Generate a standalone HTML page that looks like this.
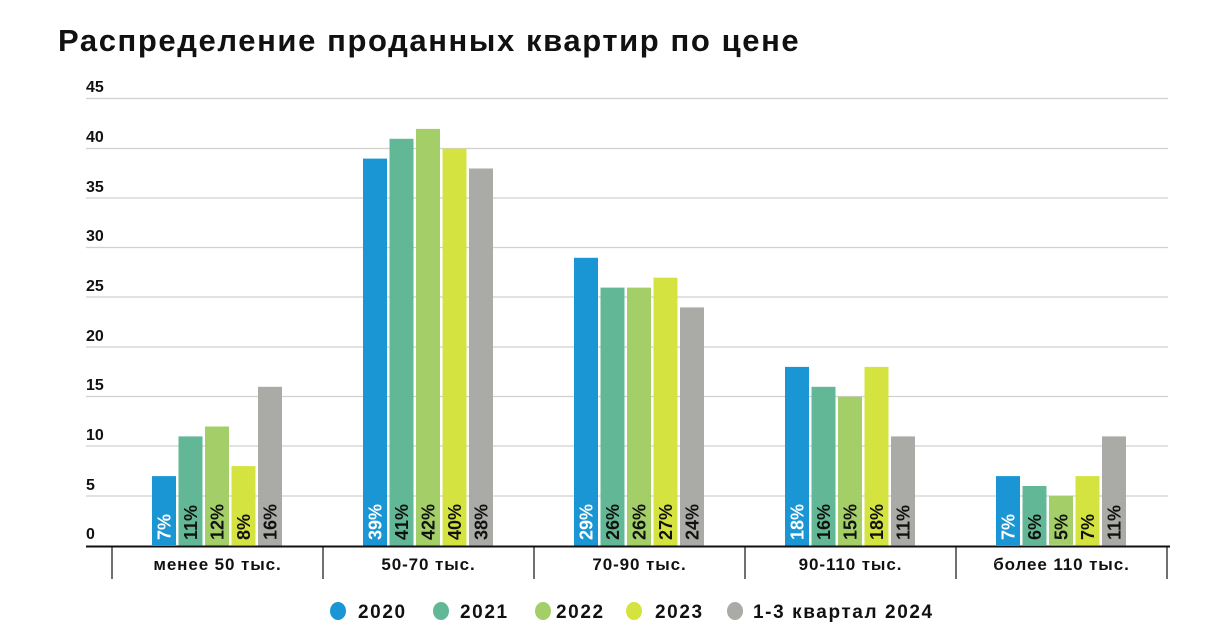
<!DOCTYPE html>
<html><head><meta charset="utf-8"><style>
body{margin:0;background:#fff}
svg{display:block;font-family:"Liberation Sans","DejaVu Sans",sans-serif}
.t{font-weight:bold;font-size:16px}
.l{font-weight:bold;font-size:18px}
</style></head><body>
<svg width="1213" height="643" viewBox="0 0 1213 643">
<text x="58" y="51" font-size="31" font-weight="bold" fill="#111" letter-spacing="1.6">Распределение проданных квартир по цене</text>
<g stroke="#d0d0d0" stroke-width="1.2">
<line x1="86" x2="1168" y1="98.5" y2="98.5"/><line x1="86" x2="1168" y1="148.5" y2="148.5"/><line x1="86" x2="1168" y1="198" y2="198"/><line x1="86" x2="1168" y1="247.5" y2="247.5"/><line x1="86" x2="1168" y1="297" y2="297"/><line x1="86" x2="1168" y1="347" y2="347"/><line x1="86" x2="1168" y1="396.5" y2="396.5"/><line x1="86" x2="1168" y1="446" y2="446"/><line x1="86" x2="1168" y1="496" y2="496"/>
</g>
<g class="t" fill="#111">
<text x="86" y="92">45</text><text x="86" y="142">40</text><text x="86" y="192">35</text><text x="86" y="241">30</text><text x="86" y="291">25</text><text x="86" y="341">20</text><text x="86" y="390">15</text><text x="86" y="440">10</text><text x="86" y="490">5</text><text x="86" y="539">0</text>
</g>
<g>
<rect x="152" y="476.1" width="24" height="69" fill="#1a96d4"/><rect x="178.5" y="436.4" width="24" height="109" fill="#62b896"/><rect x="205" y="426.5" width="24" height="119" fill="#a4cf68"/><rect x="231.5" y="466.1" width="24" height="79" fill="#d4e340"/><rect x="258" y="386.8" width="24" height="159" fill="#aaaaa7"/>
<rect x="363" y="158.6" width="24" height="387" fill="#1a96d4"/><rect x="389.5" y="138.8" width="24" height="407" fill="#62b896"/><rect x="416" y="128.9" width="24" height="417" fill="#a4cf68"/><rect x="442.5" y="148.7" width="24" height="397" fill="#d4e340"/><rect x="469" y="168.5" width="24" height="377" fill="#aaaaa7"/>
<rect x="574" y="257.8" width="24" height="288" fill="#1a96d4"/><rect x="600.5" y="287.6" width="24" height="258" fill="#62b896"/><rect x="627" y="287.6" width="24" height="258" fill="#a4cf68"/><rect x="653.5" y="277.7" width="24" height="268" fill="#d4e340"/><rect x="680" y="307.4" width="24" height="238" fill="#aaaaa7"/>
<rect x="785" y="366.9" width="24" height="179" fill="#1a96d4"/><rect x="811.5" y="386.8" width="24" height="159" fill="#62b896"/><rect x="838" y="396.7" width="24" height="149" fill="#a4cf68"/><rect x="864.5" y="366.9" width="24" height="179" fill="#d4e340"/><rect x="891" y="436.4" width="24" height="109" fill="#aaaaa7"/>
<rect x="996" y="476.1" width="24" height="69" fill="#1a96d4"/><rect x="1022.5" y="486" width="24" height="59" fill="#62b896"/><rect x="1049" y="495.9" width="24" height="49" fill="#a4cf68"/><rect x="1075.5" y="476.1" width="24" height="69" fill="#d4e340"/><rect x="1102" y="436.4" width="24" height="109" fill="#aaaaa7"/>
</g>
<g class="l" fill="#111">
<text transform="translate(170.5,540) rotate(-90)" fill="#fff">7%</text><text transform="translate(197,540) rotate(-90)">11%</text><text transform="translate(223.5,540) rotate(-90)">12%</text><text transform="translate(250,540) rotate(-90)">8%</text><text transform="translate(276.5,540) rotate(-90)">16%</text>
<text transform="translate(381.5,540) rotate(-90)" fill="#fff">39%</text><text transform="translate(408,540) rotate(-90)">41%</text><text transform="translate(434.5,540) rotate(-90)">42%</text><text transform="translate(461,540) rotate(-90)">40%</text><text transform="translate(487.5,540) rotate(-90)">38%</text>
<text transform="translate(592.5,540) rotate(-90)" fill="#fff">29%</text><text transform="translate(619,540) rotate(-90)">26%</text><text transform="translate(645.5,540) rotate(-90)">26%</text><text transform="translate(672,540) rotate(-90)">27%</text><text transform="translate(698.5,540) rotate(-90)">24%</text>
<text transform="translate(803.5,540) rotate(-90)" fill="#fff">18%</text><text transform="translate(830,540) rotate(-90)">16%</text><text transform="translate(856.5,540) rotate(-90)">15%</text><text transform="translate(883,540) rotate(-90)">18%</text><text transform="translate(909.5,540) rotate(-90)">11%</text>
<text transform="translate(1014.5,540) rotate(-90)" fill="#fff">7%</text><text transform="translate(1041,540) rotate(-90)">6%</text><text transform="translate(1067.5,540) rotate(-90)">5%</text><text transform="translate(1094,540) rotate(-90)">7%</text><text transform="translate(1120.5,540) rotate(-90)">11%</text>
</g>
<line x1="86" x2="1170" y1="546.5" y2="546.5" stroke="#111" stroke-width="2"/>
<g stroke="#111" stroke-width="1.2">
<line x1="112" x2="112" y1="546" y2="579"/><line x1="323" x2="323" y1="546" y2="579"/><line x1="534" x2="534" y1="546" y2="579"/><line x1="745" x2="745" y1="546" y2="579"/><line x1="956" x2="956" y1="546" y2="579"/><line x1="1167" x2="1167" y1="546" y2="579"/>
</g>
<g font-size="17" font-weight="bold" fill="#111" text-anchor="middle" letter-spacing="0.9">
<text x="217.5" y="570">менее 50 тыс.</text><text x="428.5" y="570">50-70 тыс.</text><text x="639.5" y="570">70-90 тыс.</text><text x="850.5" y="570">90-110 тыс.</text><text x="1061.5" y="570">более 110 тыс.</text>
</g>
<g>
<ellipse cx="338" cy="611" rx="8" ry="9" fill="#1a96d4"/><ellipse cx="441" cy="611" rx="8" ry="9" fill="#62b896"/><ellipse cx="543" cy="611" rx="8" ry="9" fill="#a4cf68"/><ellipse cx="634" cy="611" rx="8" ry="9" fill="#d4e340"/><ellipse cx="735" cy="611" rx="8" ry="9" fill="#aaaaa7"/>
</g>
<g font-size="19" font-weight="bold" fill="#111" letter-spacing="1.6">
<text x="358" y="618">2020</text><text x="460" y="618">2021</text><text x="556" y="618">2022</text><text x="655" y="618">2023</text><text x="753" y="618">1-3 квартал 2024</text>
</g>
</svg>
</body></html>
